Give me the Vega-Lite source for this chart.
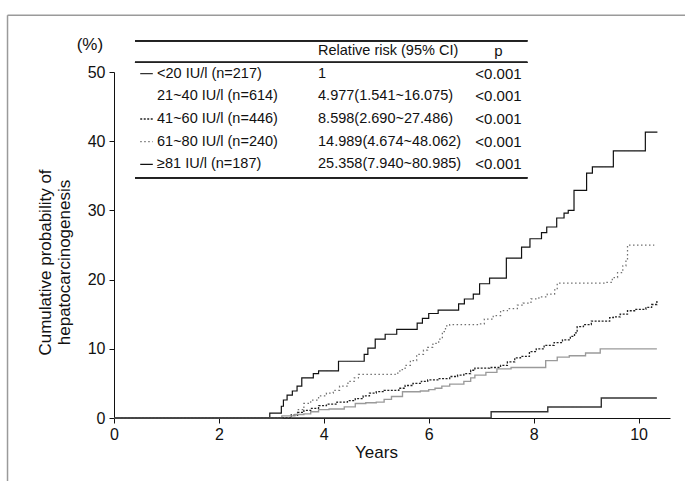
{
  "$schema": "https://vega.github.io/schema/vega-lite/v6.json",
  "width": 556,
  "height": 346,
  "autosize": {"type": "none"},
  "padding": {"left": 114, "top": 72, "right": 15, "bottom": 63},
  "background": "white",
  "config": {
    "view": {"stroke": null},
    "font": "Liberation Sans",
    "axis": {"grid": false, "domainColor": "#111", "tickColor": "#111", "labelColor": "#111", "titleColor": "#111", "titleFontWeight": "normal", "labelFont": "Liberation Sans", "titleFont": "Liberation Sans"}
  },
  "datasets": {
    "curves": [
      {"g": "≥81", "t": 0, "v": 0}, {"g": "≥81", "t": 2.97, "v": 0.7}, {"g": "≥81", "t": 3.19, "v": 1.7}, {"g": "≥81", "t": 3.23, "v": 2.6}, {"g": "≥81", "t": 3.3, "v": 3.3}, {"g": "≥81", "t": 3.4, "v": 3.9}, {"g": "≥81", "t": 3.49, "v": 4.6}, {"g": "≥81", "t": 3.58, "v": 5.8}, {"g": "≥81", "t": 3.8, "v": 6.4}, {"g": "≥81", "t": 3.9, "v": 6.8}, {"g": "≥81", "t": 4.28, "v": 8.2}, {"g": "≥81", "t": 4.77, "v": 9.2}, {"g": "≥81", "t": 4.84, "v": 10.1}, {"g": "≥81", "t": 4.98, "v": 11.4}, {"g": "≥81", "t": 5.17, "v": 12.1}, {"g": "≥81", "t": 5.39, "v": 12.8}, {"g": "≥81", "t": 5.78, "v": 13.7}, {"g": "≥81", "t": 5.88, "v": 14.4}, {"g": "≥81", "t": 6.0, "v": 15.1}, {"g": "≥81", "t": 6.18, "v": 15.6}, {"g": "≥81", "t": 6.57, "v": 16.5}, {"g": "≥81", "t": 6.68, "v": 17.2}, {"g": "≥81", "t": 6.85, "v": 17.9}, {"g": "≥81", "t": 6.97, "v": 19.4}, {"g": "≥81", "t": 7.16, "v": 20.2}, {"g": "≥81", "t": 7.48, "v": 23.1}, {"g": "≥81", "t": 7.77, "v": 24.7}, {"g": "≥81", "t": 7.93, "v": 25.9}, {"g": "≥81", "t": 8.15, "v": 26.8}, {"g": "≥81", "t": 8.25, "v": 27.6}, {"g": "≥81", "t": 8.44, "v": 28.9}, {"g": "≥81", "t": 8.58, "v": 29.6}, {"g": "≥81", "t": 8.66, "v": 30.0}, {"g": "≥81", "t": 8.77, "v": 32.9}, {"g": "≥81", "t": 9.01, "v": 35.4}, {"g": "≥81", "t": 9.12, "v": 36.3}, {"g": "≥81", "t": 9.52, "v": 38.6}, {"g": "≥81", "t": 10.13, "v": 41.3}, {"g": "≥81", "t": 10.36, "v": 41.3},
      {"g": "61~80", "t": 0, "v": 0}, {"g": "61~80", "t": 3.38, "v": 0.5}, {"g": "61~80", "t": 3.5, "v": 1.2}, {"g": "61~80", "t": 3.62, "v": 2.1}, {"g": "61~80", "t": 3.75, "v": 2.6}, {"g": "61~80", "t": 3.9, "v": 3.2}, {"g": "61~80", "t": 4.05, "v": 3.6}, {"g": "61~80", "t": 4.18, "v": 4.0}, {"g": "61~80", "t": 4.3, "v": 4.6}, {"g": "61~80", "t": 4.46, "v": 5.3}, {"g": "61~80", "t": 4.58, "v": 5.8}, {"g": "61~80", "t": 4.66, "v": 6.3}, {"g": "61~80", "t": 5.36, "v": 6.5}, {"g": "61~80", "t": 5.45, "v": 7.0}, {"g": "61~80", "t": 5.55, "v": 7.6}, {"g": "61~80", "t": 5.65, "v": 8.3}, {"g": "61~80", "t": 5.77, "v": 9.2}, {"g": "61~80", "t": 5.9, "v": 9.8}, {"g": "61~80", "t": 5.98, "v": 10.2}, {"g": "61~80", "t": 6.08, "v": 10.8}, {"g": "61~80", "t": 6.19, "v": 11.4}, {"g": "61~80", "t": 6.26, "v": 12.5}, {"g": "61~80", "t": 6.32, "v": 13.3}, {"g": "61~80", "t": 6.4, "v": 13.5}, {"g": "61~80", "t": 6.95, "v": 13.6}, {"g": "61~80", "t": 7.06, "v": 14.3}, {"g": "61~80", "t": 7.23, "v": 14.8}, {"g": "61~80", "t": 7.37, "v": 15.5}, {"g": "61~80", "t": 7.5, "v": 15.8}, {"g": "61~80", "t": 7.69, "v": 16.3}, {"g": "61~80", "t": 7.8, "v": 16.6}, {"g": "61~80", "t": 7.95, "v": 17.2}, {"g": "61~80", "t": 8.1, "v": 17.5}, {"g": "61~80", "t": 8.26, "v": 17.9}, {"g": "61~80", "t": 8.4, "v": 18.5}, {"g": "61~80", "t": 8.45, "v": 19.5}, {"g": "61~80", "t": 9.37, "v": 19.6}, {"g": "61~80", "t": 9.5, "v": 20.3}, {"g": "61~80", "t": 9.6, "v": 21.0}, {"g": "61~80", "t": 9.7, "v": 22.0}, {"g": "61~80", "t": 9.76, "v": 23.0}, {"g": "61~80", "t": 9.79, "v": 25.0}, {"g": "61~80", "t": 10.3, "v": 25.0},
      {"g": "41~60", "t": 0, "v": 0}, {"g": "41~60", "t": 3.38, "v": 0.4}, {"g": "41~60", "t": 3.5, "v": 0.8}, {"g": "41~60", "t": 3.62, "v": 1.1}, {"g": "41~60", "t": 3.75, "v": 1.4}, {"g": "41~60", "t": 3.9, "v": 1.8}, {"g": "41~60", "t": 4.05, "v": 2.0}, {"g": "41~60", "t": 4.25, "v": 2.3}, {"g": "41~60", "t": 4.45, "v": 2.5}, {"g": "41~60", "t": 4.6, "v": 2.8}, {"g": "41~60", "t": 4.75, "v": 3.2}, {"g": "41~60", "t": 4.87, "v": 3.6}, {"g": "41~60", "t": 5.0, "v": 3.8}, {"g": "41~60", "t": 5.15, "v": 4.0}, {"g": "41~60", "t": 5.43, "v": 4.3}, {"g": "41~60", "t": 5.55, "v": 4.7}, {"g": "41~60", "t": 5.7, "v": 5.0}, {"g": "41~60", "t": 5.86, "v": 5.3}, {"g": "41~60", "t": 5.98, "v": 5.5}, {"g": "41~60", "t": 6.2, "v": 5.7}, {"g": "41~60", "t": 6.4, "v": 6.0}, {"g": "41~60", "t": 6.55, "v": 6.2}, {"g": "41~60", "t": 6.67, "v": 6.4}, {"g": "41~60", "t": 6.8, "v": 6.9}, {"g": "41~60", "t": 6.88, "v": 7.2}, {"g": "41~60", "t": 7.16, "v": 7.3}, {"g": "41~60", "t": 7.37, "v": 7.6}, {"g": "41~60", "t": 7.5, "v": 8.1}, {"g": "41~60", "t": 7.64, "v": 8.7}, {"g": "41~60", "t": 7.75, "v": 8.9}, {"g": "41~60", "t": 7.92, "v": 9.6}, {"g": "41~60", "t": 8.05, "v": 10.0}, {"g": "41~60", "t": 8.2, "v": 10.5}, {"g": "41~60", "t": 8.39, "v": 10.9}, {"g": "41~60", "t": 8.55, "v": 11.3}, {"g": "41~60", "t": 8.7, "v": 11.8}, {"g": "41~60", "t": 8.78, "v": 12.3}, {"g": "41~60", "t": 8.83, "v": 13.2}, {"g": "41~60", "t": 8.95, "v": 13.5}, {"g": "41~60", "t": 9.1, "v": 14.0}, {"g": "41~60", "t": 9.27, "v": 14.0}, {"g": "41~60", "t": 9.45, "v": 14.5}, {"g": "41~60", "t": 9.52, "v": 14.6}, {"g": "41~60", "t": 9.65, "v": 15.0}, {"g": "41~60", "t": 9.79, "v": 15.5}, {"g": "41~60", "t": 9.95, "v": 15.7}, {"g": "41~60", "t": 10.14, "v": 16.0}, {"g": "41~60", "t": 10.25, "v": 16.4}, {"g": "41~60", "t": 10.35, "v": 16.9},
      {"g": "21~40", "t": 0, "v": 0}, {"g": "21~40", "t": 3.2, "v": 0.3}, {"g": "21~40", "t": 3.45, "v": 0.5}, {"g": "21~40", "t": 3.62, "v": 0.6}, {"g": "21~40", "t": 3.75, "v": 0.9}, {"g": "21~40", "t": 3.9, "v": 1.2}, {"g": "21~40", "t": 4.1, "v": 1.3}, {"g": "21~40", "t": 4.39, "v": 1.6}, {"g": "21~40", "t": 4.6, "v": 2.1}, {"g": "21~40", "t": 4.8, "v": 2.2}, {"g": "21~40", "t": 5.0, "v": 2.3}, {"g": "21~40", "t": 5.15, "v": 2.7}, {"g": "21~40", "t": 5.29, "v": 3.1}, {"g": "21~40", "t": 5.5, "v": 3.8}, {"g": "21~40", "t": 5.84, "v": 3.9}, {"g": "21~40", "t": 6.0, "v": 4.1}, {"g": "21~40", "t": 6.12, "v": 4.3}, {"g": "21~40", "t": 6.25, "v": 4.6}, {"g": "21~40", "t": 6.4, "v": 4.9}, {"g": "21~40", "t": 6.67, "v": 5.3}, {"g": "21~40", "t": 6.8, "v": 5.8}, {"g": "21~40", "t": 6.88, "v": 6.2}, {"g": "21~40", "t": 7.09, "v": 6.6}, {"g": "21~40", "t": 7.3, "v": 7.1}, {"g": "21~40", "t": 7.57, "v": 7.3}, {"g": "21~40", "t": 8.2, "v": 7.3}, {"g": "21~40", "t": 8.23, "v": 8.3}, {"g": "21~40", "t": 8.45, "v": 8.8}, {"g": "21~40", "t": 8.68, "v": 9.0}, {"g": "21~40", "t": 8.99, "v": 9.4}, {"g": "21~40", "t": 9.27, "v": 10.0}, {"g": "21~40", "t": 10.35, "v": 10.0},
      {"g": "<20", "t": 0, "v": 0}, {"g": "<20", "t": 7.19, "v": 0.9}, {"g": "<20", "t": 8.27, "v": 1.6}, {"g": "<20", "t": 9.29, "v": 2.9}, {"g": "<20", "t": 10.35, "v": 2.9}
    ],
    "table": [
      {"row": 0, "g": "hdr", "label": "", "rr": "Relative risk (95% CI)", "p": "p"},
      {"row": 1, "g": "<20", "label": "<20 IU/l (n=217)", "rr": "1", "p": "<0.001"},
      {"row": 2, "g": "21~40", "label": "21~40 IU/l (n=614)", "rr": "4.977(1.541~16.075)", "p": "<0.001"},
      {"row": 3, "g": "41~60", "label": "41~60 IU/l (n=446)", "rr": "8.598(2.690~27.486)", "p": "<0.001"},
      {"row": 4, "g": "61~80", "label": "61~80 IU/l (n=240)", "rr": "14.989(4.674~48.062)", "p": "<0.001"},
      {"row": 5, "g": "≥81", "label": "≥81 IU/l (n=187)", "rr": "25.358(7.940~80.985)", "p": "<0.001"}
    ]
  },
  "layer": [
    {
      "layer": [
        {
          "data": {"name": "curves"},
          "mark": {"type": "line", "interpolate": "step-after"},
          "encoding": {
            "x": {"field": "t", "type": "quantitative", "scale": {"domain": [0, 10.6], "nice": false, "zero": false},
              "axis": {"values": [0, 2, 4, 6, 8, 10], "title": "Years", "titleFontSize": 17, "labelFontSize": 16, "tickSize": 5, "labelPadding": 3, "titlePadding": 2, "titleX": 262, "labelFlush": false}},
            "y": {"field": "v", "type": "quantitative", "scale": {"domain": [0, 50], "nice": false},
              "axis": {"values": [0, 10, 20, 30, 40, 50], "title": ["Cumulative probability of", "hepatocarcinogenesis"], "titleFontSize": 17, "labelFontSize": 16, "tickSize": 5, "labelPadding": 4, "titlePadding": 14, "titleY": 190}},
            "detail": {"field": "g"},
            "color": {"field": "g", "type": "nominal", "legend": null, "scale": {"domain": ["<20", "21~40", "41~60", "61~80", "≥81"], "range": ["#333333", "#9a9a9a", "#222222", "#707070", "#111111"]}},
            "strokeDash": {"field": "g", "type": "nominal", "legend": null, "scale": {"domain": ["<20", "21~40", "41~60", "61~80", "≥81"], "range": [[1, 0], [1, 0], [2, 1.5], [1.5, 2.5], [1, 0]]}},
            "strokeWidth": {"field": "g", "type": "nominal", "legend": null, "scale": {"domain": ["<20", "21~40", "41~60", "61~80", "≥81"], "range": [1.4, 1.2, 2, 1.5, 2.2]}}
          }
        },
        {
          "data": {"values": [{}]},
          "mark": {"type": "text", "fontSize": 17, "font": "Liberation Sans", "color": "#111", "align": "center", "baseline": "middle"},
          "encoding": {"x": {"datum": -0.46, "type": "quantitative"}, "y": {"datum": 53.9, "type": "quantitative"}, "text": {"value": "(%)"}}
        },
        {
          "data": {"values": [{}]},
          "mark": {"type": "rule", "color": "#9a9a9a", "strokeWidth": 1.5},
          "encoding": {"x": {"datum": -2.03, "type": "quantitative"}, "y": {"datum": 58.2, "type": "quantitative"}, "y2": {"datum": -10}}
        },
        {
          "data": {"values": [{}]},
          "mark": {"type": "rule", "color": "#9a9a9a", "strokeWidth": 1.5},
          "encoding": {"x": {"datum": -2.03, "type": "quantitative"}, "x2": {"datum": 11.5}, "y": {"datum": 58.2, "type": "quantitative"}}
        }
      ]
    },
    {
      "data": {"name": "table"},
      "layer": [
        {
          "mark": {"type": "text", "align": "left", "baseline": "middle", "font": "Liberation Sans", "fontSize": 14.5, "color": "#111"},
          "encoding": {
            "x": {"datum": 0.82, "type": "quantitative"},
            "y": {"field": "row", "type": "quantitative", "scale": {"domain": [0, 5], "range": [-21, 92.3], "nice": false, "zero": false}, "axis": null},
            "text": {"field": "label"}
          }
        },
        {
          "mark": {"type": "text", "align": "left", "baseline": "middle", "font": "Liberation Sans", "fontSize": 14.5, "color": "#111"},
          "encoding": {
            "x": {"datum": 3.89, "type": "quantitative"},
            "y": {"field": "row", "type": "quantitative", "scale": {"domain": [0, 5], "range": [-21, 92.3], "nice": false, "zero": false}, "axis": null},
            "text": {"field": "rr"}
          }
        },
        {
          "mark": {"type": "text", "align": "center", "baseline": "middle", "font": "Liberation Sans", "fontSize": 15, "color": "#111"},
          "encoding": {
            "x": {"datum": 7.33, "type": "quantitative"},
            "y": {"field": "row", "type": "quantitative", "scale": {"domain": [0, 5], "range": [-21, 92.3], "nice": false, "zero": false}, "axis": null},
            "text": {"field": "p"}
          }
        },
        {
          "transform": [{"filter": "datum.row >= 1 && datum.g != '21~40'"}],
          "mark": {"type": "rule"},
          "encoding": {
            "x": {"datum": 0.5, "type": "quantitative"},
            "x2": {"datum": 0.74},
            "y": {"field": "row", "type": "quantitative", "scale": {"domain": [0, 5], "range": [-21, 92.3], "nice": false, "zero": false}, "axis": null},
            "color": {"field": "g", "type": "nominal", "legend": null},
            "strokeDash": {"field": "g", "type": "nominal", "legend": null},
            "strokeWidth": {"field": "g", "type": "nominal", "legend": null}
          }
        },
        {
          "mark": {"type": "rule", "color": "#222", "strokeWidth": 1.2},
          "encoding": {"x": {"datum": 0.4, "type": "quantitative"}, "x2": {"datum": 7.88}, "y": {"datum": -0.45, "type": "quantitative"}}
        },
        {
          "mark": {"type": "rule", "color": "#222", "strokeWidth": 1.2},
          "encoding": {"x": {"datum": 0.4, "type": "quantitative"}, "x2": {"datum": 7.88}, "y": {"datum": 0.5, "type": "quantitative"}}
        },
        {
          "mark": {"type": "rule", "color": "#222", "strokeWidth": 1.2},
          "encoding": {"x": {"datum": 0.4, "type": "quantitative"}, "x2": {"datum": 7.88}, "y": {"datum": 5.6, "type": "quantitative"}}
        }
      ]
    }
  ],
  "resolve": {"scale": {"y": "independent"}}
}
